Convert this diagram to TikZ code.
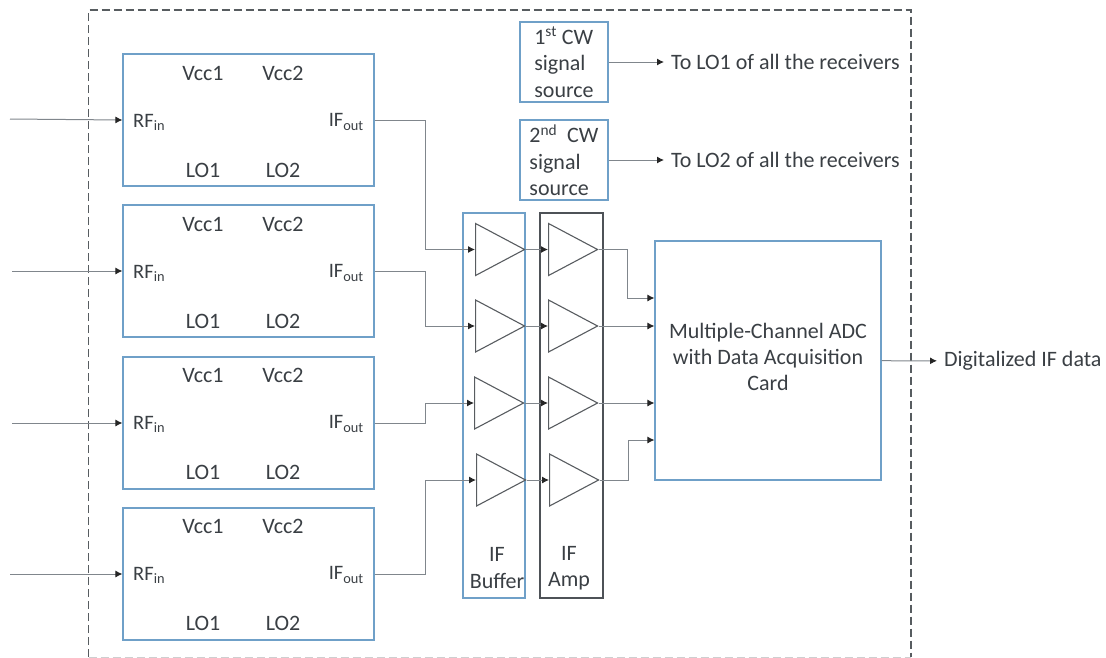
\documentclass[tikz,border=0pt]{standalone}
\usepackage{fontspec}
\setmainfont{Carlito}
\usepackage{xcolor}
\usetikzlibrary{arrows.meta,positioning,calc,shapes.geometric}
\definecolor{boxblue}{HTML}{6FA0C8}
\definecolor{wiregray}{HTML}{80868C}
\definecolor{inkgray}{HTML}{3A3F44}

\begin{document}
\begin{tikzpicture}[x=1pt,y=-1pt,
				every node/.style={text=inkgray, font=\fontsize{22}{26.5}\selectfont},
				rxbox/.style={draw=boxblue, line width=1.1pt, minimum width=251pt, minimum height=132pt},
				srcbox/.style={draw=boxblue, line width=1.1pt, minimum width=88pt, minimum height=80pt, inner sep=0pt, align=left},
				lbl/.style={inner sep=0pt},
				port/.style={inner sep=0pt, font=\fontsize{20.5}{25}\selectfont},
				sink/.style={inner sep=0pt, outer sep=7pt, anchor=west},
				amp/.style={draw=inkgray!85, line width=1.1pt, isosceles triangle, isosceles triangle stretches,
					shape border rotate=0, minimum width=52pt, minimum height=49pt, inner sep=0pt, anchor=lower side},
				wire/.style={draw=wiregray, line width=1pt},
				arr/.style={wire, -{Latex[length=7pt,width=7pt,color=black!85]}}]
			\useasboundingbox (0,0) rectangle (1106,657);
			\draw[inkgray!85, line width=1.1pt, dash pattern=on 8pt off 4pt] (88.5,657) -- (88.5,10) -- (911,10) -- (911,657);
			\draw[inkgray!25, line width=0.8pt, dash pattern=on 8pt off 4pt] (88.5,657) -- (911,657);

			% receivers
			\node[rxbox] (rxa) at (248.5,120) {};
			\node[lbl] at (203,73) {Vcc1};
			\node[lbl] at (283,73) {Vcc2};
			\node[lbl] at (203,170) {LO1};
			\node[lbl] at (283,170) {LO2};
			\node[port, anchor=west] at (133,122) {RF\textsubscript{in}};
			\node[port, anchor=east] at (364,122) {IF\textsubscript{out}};

			\node[rxbox] (rxb) at (248.5,271) {};
			\node[lbl] at (203,224) {Vcc1};
			\node[lbl] at (283,224) {Vcc2};
			\node[lbl] at (203,321) {LO1};
			\node[lbl] at (283,321) {LO2};
			\node[port, anchor=west] at (133,273) {RF\textsubscript{in}};
			\node[port, anchor=east] at (364,273) {IF\textsubscript{out}};

			\node[rxbox] (rxc) at (248.5,423) {};
			\node[lbl] at (203,375) {Vcc1};
			\node[lbl] at (283,375) {Vcc2};
			\node[lbl] at (203,472) {LO1};
			\node[lbl] at (283,472) {LO2};
			\node[port, anchor=west] at (133,424) {RF\textsubscript{in}};
			\node[port, anchor=east] at (364,424) {IF\textsubscript{out}};

			\node[rxbox] (rxd) at (248.5,574) {};
			\node[lbl] at (203,526) {Vcc1};
			\node[lbl] at (283,526) {Vcc2};
			\node[lbl] at (203,623) {LO1};
			\node[lbl] at (283,623) {LO2};
			\node[port, anchor=west] at (133,575) {RF\textsubscript{in}};
			\node[port, anchor=east] at (364,575) {IF\textsubscript{out}};

			\coordinate (ina) at (10,119);
			\coordinate (inb) at (12,271);
			\coordinate (inc) at (12,423);
			\coordinate (ind) at (10,574);
			\draw[arr] (ina) -- (rxa.west);
			\draw[arr] (inb) -- (rxb.west);
			\draw[arr] (inc) -- (rxc.west);
			\draw[arr] (ind) -- (rxd.west);

			% sources
			\node[srcbox] (srca) at (564,62) {1\textsuperscript{st} CW\\signal\\source};
			\node[srcbox] (srcb) at (564,160) {2\textsuperscript{nd}~ CW\\signal\\source};
			\node[sink] (loa) at (664,62) {To LO1 of all the receivers};
			\node[sink] (lob) at (664,160) {To LO2 of all the receivers};
			\draw[arr] (srca) -- (loa);
			\draw[arr] (srcb) -- (lob);

			% buffers and amps
			\node[draw=boxblue, line width=1.1pt, minimum width=62pt, minimum height=385pt] (bufbox) at (494,405.5) {};
			\node[draw=inkgray!90, line width=1.1pt, minimum width=63pt, minimum height=385pt] (ampbox) at (571.5,405.5) {};
			\node[lbl, align=center] at (497,568) {IF\\Buffer};
			\node[lbl, align=center] at (569,568) {IF\\Amp};

			\node[amp] (bufa) at (475,249.5) {};
			\node[amp] (bufb) at (475,326) {};
			\node[amp] (bufc) at (474,403) {};
			\node[amp] (bufd) at (476,480) {};
			\node[amp] (ampa) at (548,249.5) {};
			\node[amp] (ampb) at (548,326) {};
			\node[amp] (ampc) at (548,403) {};
			\node[amp] (ampd) at (549,480) {};

			\draw[arr] (rxa.east) -- ++(51,0) |- (bufa.lower side);
			\draw[arr] (rxb.east) -- ++(51,0) |- (bufb.lower side);
			\draw[arr] (rxc.east) -- ++(51,0) |- (bufc.lower side);
			\draw[arr] (rxd.east) -- ++(51,0) |- (bufd.lower side);
			\draw[arr] (bufa.apex) -- (ampa.lower side);
			\draw[arr] (bufb.apex) -- (ampb.lower side);
			\draw[arr] (bufc.apex) -- (ampc.lower side);
			\draw[arr] (bufd.apex) -- (ampd.lower side);

			% adc
			\node[draw=boxblue, line width=1.1pt, minimum width=226pt, minimum height=239pt] (adc) at (768,360.5) {};
			\node[lbl, align=center, font=\fontsize{22}{26}\selectfont] at (768,357) {Multiple-Channel ADC\\with Data Acquisition\\Card};
			\node[sink] (out) at (937,361) {Digitalized IF data};
			\draw[arr] (adc) -- (out);
			\draw[arr] (ampa.apex) -- ++(29,0) |- ([yshift=62.5pt]adc.west);
			\draw[arr] (ampb.apex) -- ([yshift=34.5pt]adc.west);
			\draw[arr] (ampc.apex) -- ([yshift=-42.5pt]adc.west);
			\draw[arr] (ampd.apex) -- ++(29,0) |- ([yshift=-79.5pt]adc.west);
		\end{tikzpicture}
\end{document}
